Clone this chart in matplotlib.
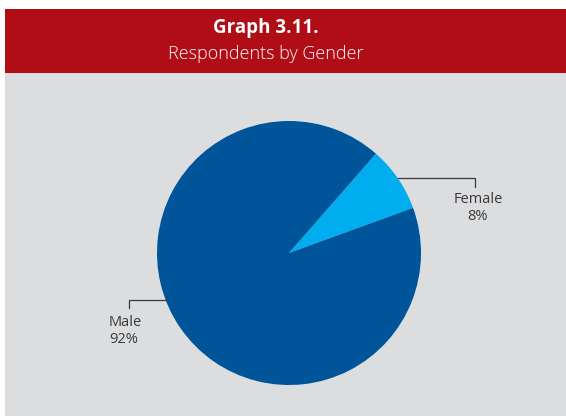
import numpy as np
import matplotlib.pyplot as plt
from matplotlib.patches import Rectangle

# Respondents by gender (percent)
genders = ["Female", "Male"]
shares = [8, 92]
colors = ["#00aeef", "#00549a"]

W, H = 566, 416
fig = plt.figure(figsize=(W / 100, H / 100), dpi=100)
ax = fig.add_axes([0, 0, 1, 1])

# panel and header band
ax.add_patch(Rectangle((5, 0), W, 343, facecolor="#dcdddf", edgecolor="none"))
ax.add_patch(Rectangle((5, 343), W, 64, facecolor="#b00d17", edgecolor="none"))
ax.text(266, 388, "Graph 3.11.", ha="center", va="center", color="white",
        fontsize=13.5, fontweight="bold", family="Open Sans")
ax.text(266, 362, "Respondents by Gender", ha="center", va="center",
        color="white", fontsize=13, fontweight="light", family="Open Sans")

cx, cy, r = 289, 163, 132
wedges, _ = ax.pie(shares, colors=colors, startangle=20, counterclock=True,
                   center=(cx, cy), radius=r, frame=True,
                   wedgeprops=dict(linewidth=0))
ax.set_xlim(0, W)
ax.set_ylim(0, H)
ax.set_aspect("equal")
ax.axis("off")

# leader lines and labels
lab_col = "#3a3a3a"
ang_f = np.deg2rad((wedges[0].theta1 + wedges[0].theta2) / 2)
x0, y0 = cx + r * np.cos(ang_f), cy + r * np.sin(ang_f)
ax.plot([x0, 475, 475], [y0, y0, y0 - 9], color=lab_col, lw=0.9)
ax.text(478, 208, "%s\n%d%%" % (genders[0], shares[0]), ha="center",
        va="center", color=lab_col, fontsize=10.5, linespacing=1.15,
        family="Open Sans")

ang_m = np.deg2rad(201)
x1, y1 = cx + r * np.cos(ang_m), cy + r * np.sin(ang_m)
ax.plot([x1, 129, 129], [y1, y1, y1 - 8], color=lab_col, lw=0.9)
ax.text(109, 85, "%s\n%d%%" % (genders[1], shares[1]), ha="left",
        va="center", color=lab_col, fontsize=10.5, linespacing=1.15,
        family="Open Sans")

fig.savefig("out.png", dpi=100)
